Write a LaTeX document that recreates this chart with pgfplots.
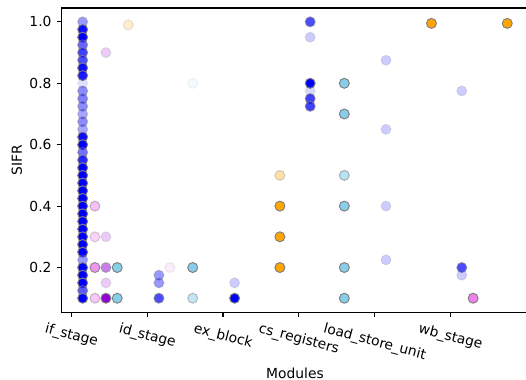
\documentclass[border=0pt]{standalone}
\usepackage{pgfplots}
\pgfplotsset{compat=1.18}
\usepackage{pgfplotstable}
\usepackage{graphicx}
\usepackage{fontspec}
\setmainfont{DejaVu Sans}
\definecolor{mblue}{HTML}{0000FF}
\definecolor{mviolet}{HTML}{EE82EE}
\definecolor{mdviolet}{HTML}{9400D3}
\definecolor{msky}{HTML}{87CEEB}
\definecolor{morange}{HTML}{FFA500}
\definecolor{edgegray}{HTML}{808080}

\pgfplotstableread{
x y a
0.148 1.000 0.4
0.148 0.975 0.95
0.148 0.950 1.0
0.148 0.925 0.6
0.148 0.900 0.75
0.148 0.875 0.7
0.148 0.850 0.95
0.148 0.825 0.9
0.148 0.800 0.12
0.148 0.775 0.45
0.148 0.750 0.5
0.148 0.725 0.45
0.148 0.700 0.35
0.148 0.675 0.45
0.148 0.650 0.35
0.148 0.625 0.95
0.148 0.600 1.0
0.148 0.575 0.55
0.148 0.550 0.85
0.148 0.525 1.0
0.148 0.500 1.0
0.148 0.475 1.0
0.148 0.450 1.0
0.148 0.425 1.0
0.148 0.400 1.0
0.148 0.375 1.0
0.148 0.350 1.0
0.148 0.325 1.0
0.148 0.300 1.0
0.148 0.275 1.0
0.148 0.250 1.0
0.148 0.225 0.4
0.148 0.200 1.0
0.148 0.175 1.0
0.148 0.150 1.0
0.148 0.125 0.65
0.148 0.100 1.0
1.154 0.175 0.4
1.154 0.150 0.4
1.154 0.100 0.7
2.153 0.150 0.2
2.153 0.100 1.0
3.150 1.000 0.7
3.150 0.950 0.2
3.150 0.800 1.0
3.150 0.775 0.15
3.150 0.750 0.75
3.150 0.725 0.75
4.150 0.875 0.2
4.150 0.650 0.2
4.150 0.400 0.2
4.150 0.225 0.2
5.150 0.775 0.2
5.150 0.200 0.7
5.150 0.175 0.2
}\blueT

\pgfplotstableread{
x y a
0.310 0.400 0.5
0.310 0.300 0.35
0.310 0.200 0.85
0.310 0.100 0.45
1.300 0.200 0.15
5.300 0.100 1.0
}\violetT

\pgfplotstableread{
x y a
0.455 0.900 0.2
0.455 0.300 0.2
0.455 0.200 0.5
0.455 0.150 0.2
0.455 0.100 1.0
}\dvioletT

\pgfplotstableread{
x y a
0.604 0.200 1.0
0.604 0.100 1.0
1.600 0.800 0.1
1.600 0.200 1.0
1.600 0.100 0.5
3.600 0.800 1.0
3.600 0.700 1.0
3.600 0.500 0.6
3.600 0.400 1.0
3.600 0.200 1.0
3.600 0.100 1.0
}\skyT

\pgfplotstableread{
x y a
0.750 0.990 0.2
2.750 0.500 0.35
2.750 0.400 1.0
2.750 0.300 1.0
2.750 0.200 1.0
4.750 0.995 1.0
5.750 0.995 1.0
}\orangeT

\pgfplotsset{
  pts/.style={scatter, only marks, mark=*, mark size=3.6pt, line width=0.7pt,
    visualization depends on={\thisrow{a}\as\alp},
    scatter/use mapped color={draw=edgegray, fill=#1},
    scatter/@pre marker code/.append code={\pgfsetfillopacity{\alp}\pgfsetstrokeopacity{\alp}}},
}

\begin{document}
\begin{tikzpicture}
\begin{axis}[
  at={(0,0)}, anchor=south west,
  scale only axis, width=337.5pt, height=219.7pt,
  xmin=-0.132, xmax=6.03, ymin=0.055, ymax=1.045,
  axis line style={line width=0.8pt, black},
  tick style={line width=0.8pt, black},
  tick align=outside, major tick length=3.5pt, tick pos=left,
  xtick={0,1,2,3,4,5},
  xticklabels={{\rotatebox{-15}{if\_stage}},{\rotatebox{-15}{id\_stage}},{\rotatebox{-15}{ex\_block}},{\rotatebox{-15}{cs\_registers}},{\rotatebox{-15}{load\_store\_unit}},{\rotatebox{-15}{wb\_stage}}},
  xticklabel style={anchor=north, inner sep=1pt, yshift=-2.5pt},
  ytick={0.2,0.4,0.6,0.8,1.0},
  yticklabel style={/pgf/number format/fixed, /pgf/number format/fixed zerofill, /pgf/number format/precision=1, inner sep=1pt, xshift=-2.5pt},
  /pgf/number format/assume math mode=true,
  xlabel={Modules}, ylabel={SIFR},
  every axis x label/.style={at={(axis description cs:0.5,0)}, anchor=center, yshift=-44.1pt},
  every axis y label/.style={at={(axis description cs:0,0.5)}, xshift=-32.2pt, anchor=center, rotate=90},
]
\addplot[pts=mblue] table[x=x,y=y] {\blueT};
\addplot[pts=mviolet] table[x=x,y=y] {\violetT};
\addplot[pts=mdviolet] table[x=x,y=y] {\dvioletT};
\addplot[pts=msky] table[x=x,y=y] {\skyT};
\addplot[pts=morange] table[x=x,y=y] {\orangeT};
\end{axis}
\pgfresetboundingbox
\path[use as bounding box] (-44.4pt,-49.1pt) rectangle (335.7pt,225.5pt);
\end{tikzpicture}
\end{document}
